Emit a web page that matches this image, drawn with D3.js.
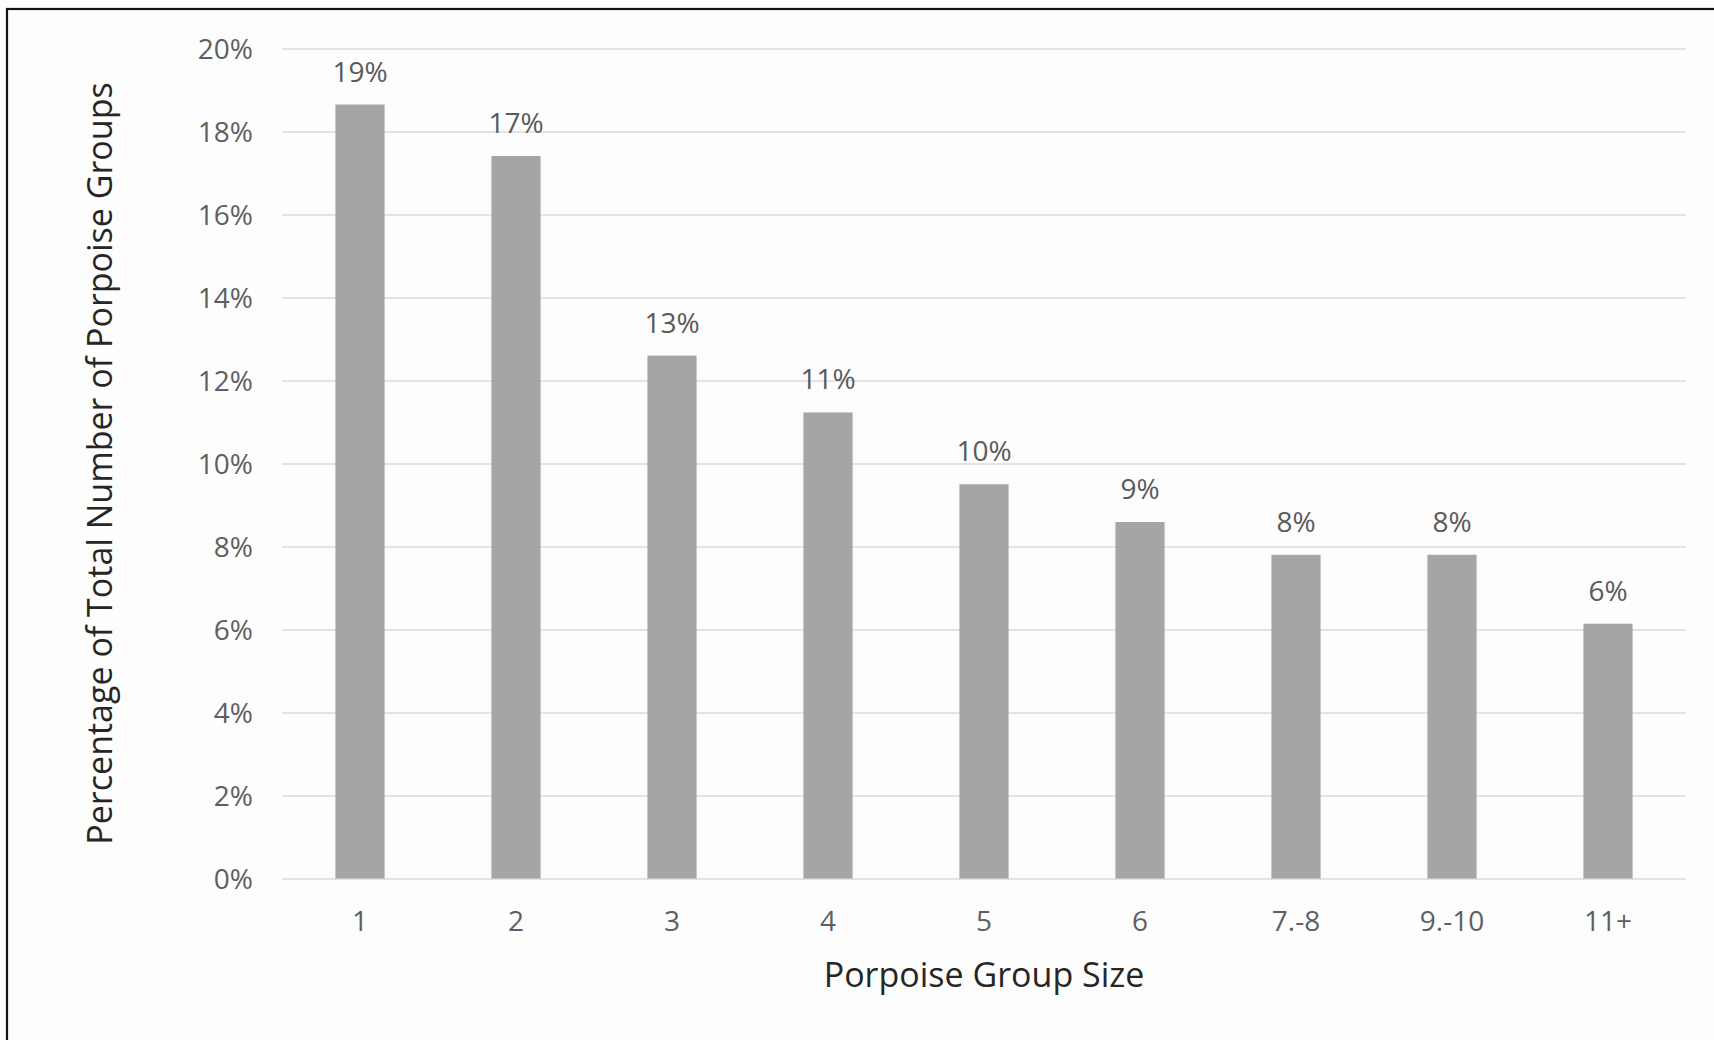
<!DOCTYPE html>
<html>
<head>
<meta charset="utf-8">
<script src="https://cdn.jsdelivr.net/npm/d3@7"></script>
<style>
  html, body { margin: 0; padding: 0; background: #fdfdfd; }
  svg { display: block; }
  text { font-family: "Open Sans", "Noto Sans", sans-serif; }
</style>
</head>
<body>
<div id="chart"></div>
<script>
const categories = ["1", "2", "3", "4", "5", "6", "7.-8", "9.-10", "11+"];
const values = [18.65, 17.41, 12.6, 11.23, 9.5, 8.59, 7.8, 7.8, 6.14];
const dataLabels = ["19%", "17%", "13%", "11%", "10%", "9%", "8%", "8%", "6%"];
const yTicks = [0, 2, 4, 6, 8, 10, 12, 14, 16, 18, 20];
const xTitle = "Porpoise Group Size";
const yTitle = "Percentage of Total Number of Porpoise Groups";

const W = 1714, H = 1040;
const plot = { left: 282, right: 1686, top: 48.5, bottom: 878.5 };

const svg = d3.select("#chart").append("svg")
  .attr("width", W).attr("height", H);

svg.append("rect").attr("width", W).attr("height", H).attr("fill", "#fdfdfd");

// frame (only top and left edges visible)
svg.append("rect")
  .attr("x", 7).attr("y", 9).attr("width", W + 20).attr("height", H + 20)
  .attr("fill", "none").attr("stroke", "#111").attr("stroke-width", 2.2);

const x = d3.scaleBand().domain(categories).range([plot.left, plot.right])
  .paddingInner(0.685).paddingOuter(0.3425);
const y = d3.scaleLinear().domain([0, 20]).range([plot.bottom, plot.top]);

// gridlines
const yAxis = d3.axisLeft(y).tickValues(yTicks).tickFormat(d => d + "%")
  .tickSize(-(plot.right - plot.left)).tickPadding(29);
const gy = svg.append("g").attr("transform", `translate(${plot.left},0)`).call(yAxis);
gy.select(".domain").remove();
gy.selectAll(".tick line").attr("stroke", "#e3e3e3").attr("stroke-width", 2);
gy.selectAll(".tick text").attr("fill", "#5f5f5f").attr("font-size", 28)
  .attr("font-family", "Open Sans").attr("dy", "0.35em");

// bars
svg.append("g").selectAll("rect").data(categories).join("rect")
  .attr("x", d => x(d)).attr("width", x.bandwidth())
  .attr("y", (d, i) => y(values[i]))
  .attr("height", (d, i) => y(0) - y(values[i]))
  .attr("fill", "#a5a5a5");

// data labels
svg.append("g").selectAll("text").data(categories).join("text")
  .attr("x", d => x(d) + x.bandwidth() / 2)
  .attr("y", (d, i) => y(values[i]) - 23)
  .attr("text-anchor", "middle")
  .attr("font-size", 28).attr("fill", "#5a5a5a")
  .text((d, i) => dataLabels[i]);

// x axis labels
const xAxis = d3.axisBottom(x).tickSize(0).tickPadding(0);
const gx = svg.append("g").attr("transform", `translate(0,${plot.bottom})`).call(xAxis);
gx.select(".domain").remove();
gx.selectAll(".tick text").attr("fill", "#5f5f5f").attr("font-size", 28)
  .attr("font-family", "Open Sans").attr("y", 43).attr("dy", "0.35em");

// axis titles
svg.append("text")
  .attr("x", (plot.left + plot.right) / 2).attr("y", 975)
  .attr("dy", "0.35em").attr("text-anchor", "middle")
  .attr("font-size", 34).attr("fill", "#262626")
  .text(xTitle);

svg.append("text")
  .attr("transform", `translate(100,${(plot.top + plot.bottom) / 2}) rotate(-90)`)
  .attr("dy", "0.35em").attr("text-anchor", "middle")
  .attr("font-size", 34).attr("fill", "#262626")
  .text(yTitle);
</script>
</body>
</html>
